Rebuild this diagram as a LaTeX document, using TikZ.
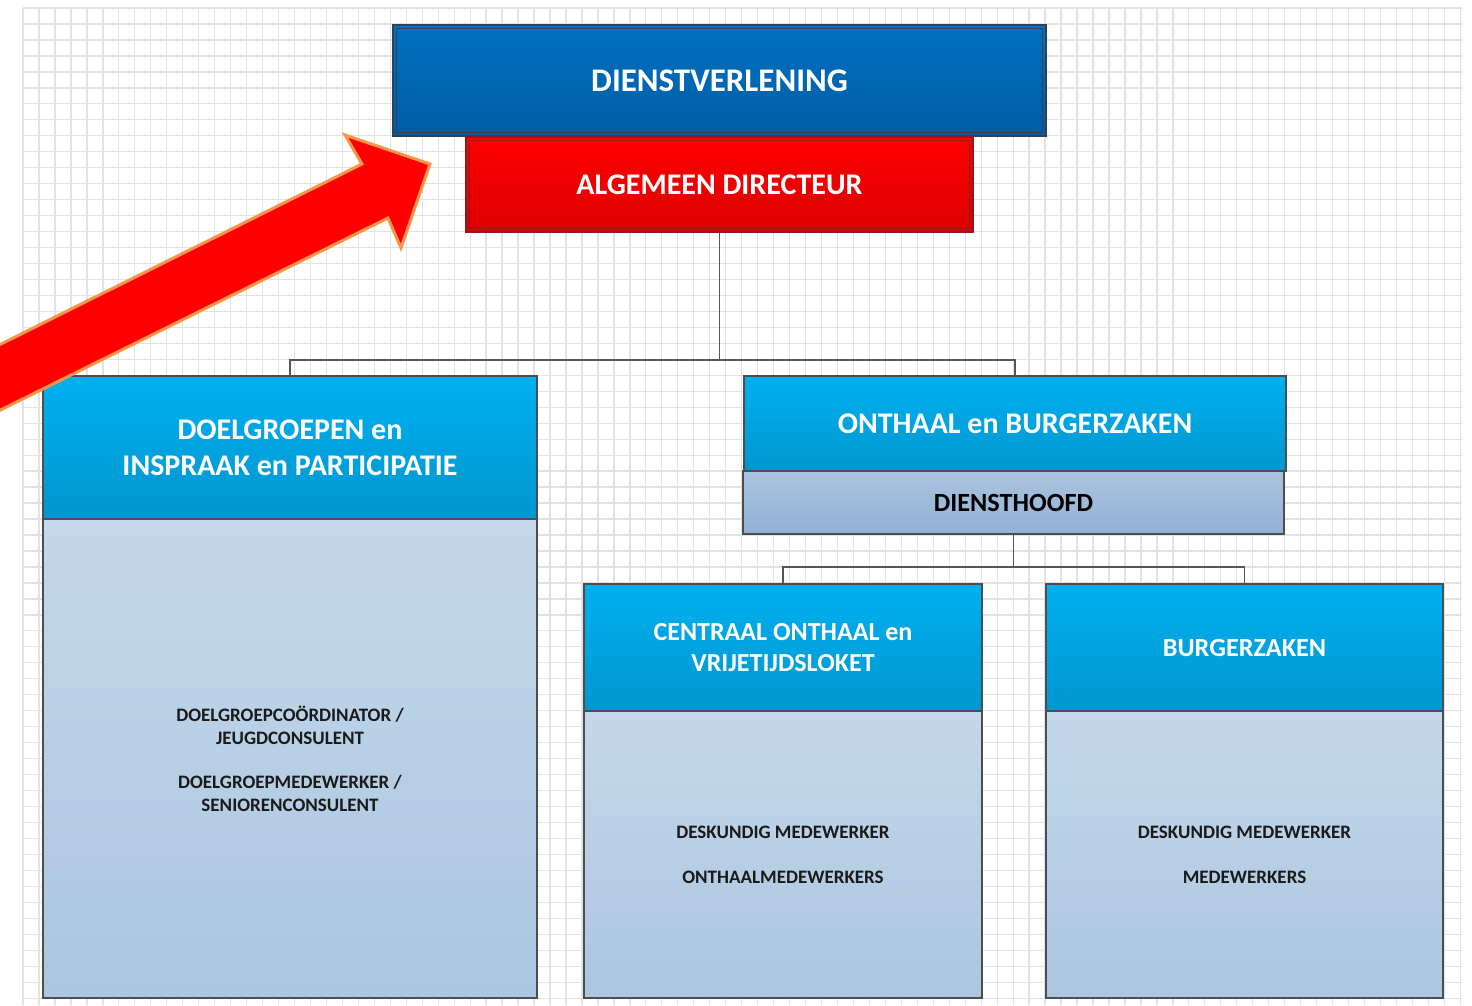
\documentclass[tikz,border=0pt]{standalone}
\usepackage{fontspec}
\setmainfont{Carlito}
\definecolor{gridc}{HTML}{E2E2E2}
\definecolor{dvTop}{HTML}{0071C1}
\definecolor{dvBot}{HTML}{005DA6}
\definecolor{dvLine}{HTML}{2E4257}
\definecolor{redTop}{HTML}{FF0000}
\definecolor{redBot}{HTML}{DC0000}
\definecolor{redLine}{HTML}{8E1B1B}
\definecolor{cyanTop}{HTML}{00B0F0}
\definecolor{cyanBot}{HTML}{0096CF}
\definecolor{bodyTop}{HTML}{C4D8EB}
\definecolor{bodyBot}{HTML}{ABC6DF}
\definecolor{dhTop}{HTML}{AAC4DF}
\definecolor{dhBot}{HTML}{92B1D5}
\definecolor{boxLine}{HTML}{4D4D4D}
\definecolor{connC}{HTML}{555555}
\definecolor{arrowFill}{HTML}{FF0000}
\definecolor{arrowLine}{HTML}{F79646}
\definecolor{bodyText}{HTML}{1A1A1A}
\newcommand{\fs}[2]{\fontsize{#1}{#2}\selectfont\bfseries}
\tikzset{
  gridline/.style={draw=gridc, line width=1.3pt},
  box/.style={draw=boxLine, line width=1.3pt, inner sep=0pt, align=center},
  hdr/.style={box, top color=cyanTop, bottom color=cyanBot, text=white},
  bodybox/.style={box, top color=bodyTop, bottom color=bodyBot, text=bodyText, font={\fs{19}{23}}},
  conn/.style={draw=connC, line width=1.4pt},
}
\begin{document}
\begin{tikzpicture}[x={(1pt,0pt)}, y={(0pt,-1pt)}]
\useasboundingbox (0,0) rectangle (1472,1005);
\fill[white] (0,0) rectangle (1472,1005);
% grid
\foreach \i in {0,...,90} {\draw[gridline] ({23+\i*15.97},8) -- ({23+\i*15.97},1005);}
\foreach \j in {0,...,62} {\draw[gridline] (23,{8+\j*15.97}) -- (1462,{8+\j*15.97});}

% top boxes
\node[box, draw=dvLine, top color=dvTop, bottom color=dvBot, text=white,
      minimum width=653pt, minimum height=111pt, font={\fs{33}{38}}] (dv) at (719.5,80.5)
      {DIENSTVERLENING};
\draw[dvLine, line width=0.8pt] ([shift={(4,4)}]dv.north west) rectangle ([shift={(-4,-4)}]dv.south east);
\node[box, draw=redLine, top color=redTop, bottom color=redBot, text=white,
      minimum width=507pt, minimum height=95pt, font={\fs{30}{35}}] (alg) at (719.5,184.5)
      {ALGEMEEN DIRECTEUR};
\draw[redLine, line width=0.8pt] ([shift={(4,4)}]alg.north west) rectangle ([shift={(-4,-4)}]alg.south east);

% left column
\node[hdr, minimum width=494pt, minimum height=143pt, font={\fs{30}{36}}] (doelh) at (290,447.5)
      {DOELGROEPEN en\\ INSPRAAK en PARTICIPATIE};
\node[bodybox, minimum width=494pt, minimum height=479pt] (doelb) at (290,758.5)
      {DOELGROEPCOÖRDINATOR /\\ JEUGDCONSULENT\\[21pt] DOELGROEPMEDEWERKER /\\ SENIORENCONSULENT};

% onthaal
\node[hdr, minimum width=542pt, minimum height=95pt, font={\fs{30}{35}}] (onth) at (1015,423.5)
      {ONTHAAL en BURGERZAKEN};
\node[box, top color=dhTop, bottom color=dhBot, text=black,
      minimum width=541pt, minimum height=63pt, font={\fs{26.2}{30}}] (dh) at (1013.5,502.5)
      {DIENSTHOOFD};

% lower right
\node[hdr, minimum width=398pt, minimum height=127pt, font={\fs{26}{31}}] (cenh) at (783,647.5)
      {CENTRAAL ONTHAAL en\\ VRIJETIJDSLOKET};
\node[bodybox, minimum width=398pt, minimum height=287pt] (cenb) at (783,854.5)
      {DESKUNDIG MEDEWERKER\\[22pt] ONTHAALMEDEWERKERS};
\node[hdr, minimum width=397pt, minimum height=127pt, font={\fs{26.2}{31}}] (burh) at (1244.5,647.5)
      {BURGERZAKEN};
\node[bodybox, minimum width=397pt, minimum height=287pt] (burb) at (1244.5,854.5)
      {DESKUNDIG MEDEWERKER\\[22pt] MEDEWERKERS};

% connectors
\coordinate (j1) at (719.5,360);
\draw[conn] (alg.south) -- (j1);
\draw[conn] (doelh.north) |- (j1) -| (onth.north);
\coordinate (j2) at (1013.5,567);
\draw[conn] (dh.south) -- (j2);
\draw[conn] (cenh.north) |- (j2) -| (burh.north);

% big arrow
\begin{scope}
\clip (0,0) rectangle (1472,1005);
\filldraw[fill=arrowFill, draw=arrowLine, line width=3pt, line join=miter]
  (-40,364.5) -- (362,164) -- (345,135) -- (430,164) -- (401,248) -- (388,218) -- (-40,430) -- cycle;
\end{scope}
\end{tikzpicture}
\end{document}
